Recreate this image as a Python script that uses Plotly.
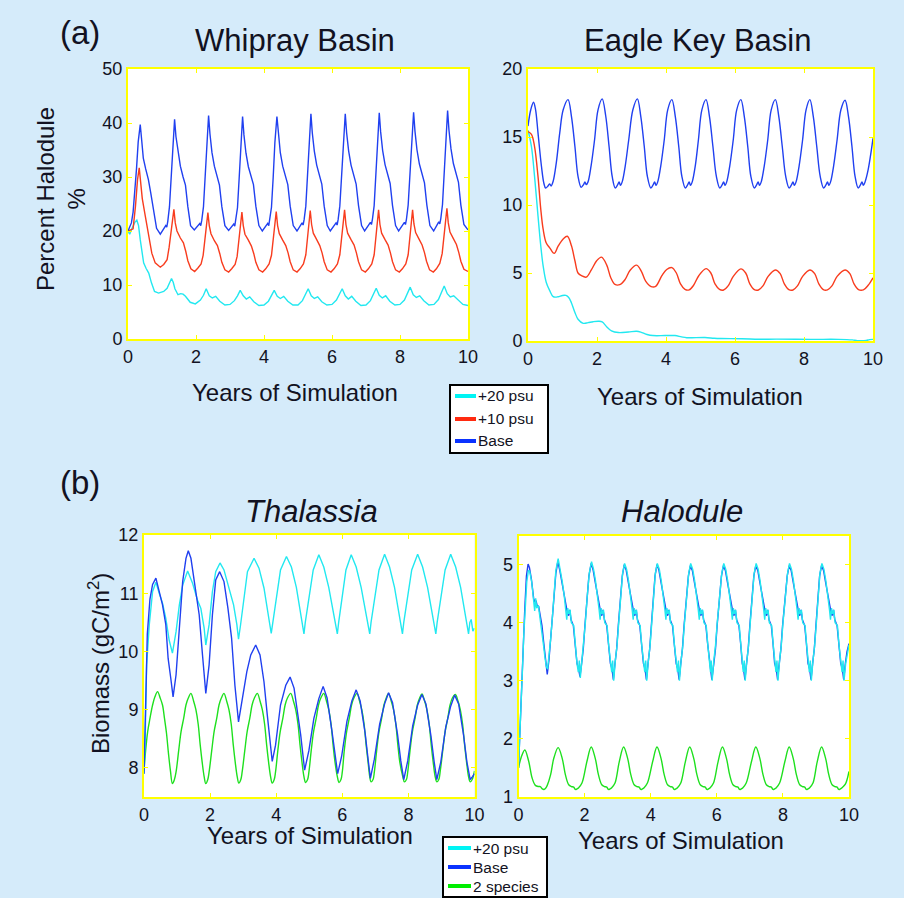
import plotly.graph_objects as go

# ---------------- DATA ----------------
# (a) Whipray Basin, percent Halodule
wc_x = [0, 0.05, 0.12, 0.20, 0.26, 0.31, 0.36, 0.42, 0.46, 0.53, 0.61, 0.69, 0.78, 0.90,
        1.05, 1.15, 1.22, 1.28, 1.33, 1.38, 1.47, 1.55, 1.62, 1.69, 1.83, 1.98,
        2.13, 2.22, 2.30, 2.39, 2.48, 2.58, 2.70, 2.85, 3.00,
        3.13, 3.22, 3.30, 3.39, 3.48, 3.58, 3.70, 3.85, 4.00,
        4.13, 4.22, 4.30, 4.39, 4.48, 4.58, 4.70, 4.85, 5.00,
        5.13, 5.22, 5.30, 5.39, 5.48, 5.58, 5.70, 5.85, 6.00,
        6.13, 6.22, 6.30, 6.39, 6.48, 6.58, 6.70, 6.85, 7.00,
        7.13, 7.22, 7.30, 7.39, 7.48, 7.58, 7.70, 7.85, 8.00,
        8.13, 8.22, 8.30, 8.39, 8.48, 8.58, 8.70, 8.85, 9.00,
        9.13, 9.22, 9.30, 9.39, 9.48, 9.58, 9.70, 9.85, 10.0]
wc_y = [20.0, 19.4, 20.5, 21.6, 22.0, 21.0, 18.4, 15.5, 14.1, 13.1, 12.2, 10.4, 8.8, 8.5,
        8.8, 9.4, 10.4, 11.2, 10.5, 9.3, 8.2, 8.4, 8.3, 7.9, 6.8, 6.5,
        7.2, 8.1, 9.3, 8.0, 7.6, 7.9, 7.0, 6.3, 6.4,
        7.1, 8.0, 9.0, 8.0, 7.4, 7.8, 6.9, 6.2, 6.3,
        7.0, 8.0, 9.0, 7.9, 7.5, 7.9, 7.0, 6.3, 6.3,
        7.1, 8.2, 9.3, 8.0, 7.5, 7.8, 6.9, 6.3, 6.4,
        7.2, 8.2, 9.3, 8.0, 7.4, 7.9, 7.0, 6.2, 6.3,
        7.1, 8.2, 9.4, 8.1, 7.6, 8.0, 7.0, 6.3, 6.4,
        7.2, 8.4, 9.6, 8.2, 7.7, 8.0, 7.1, 6.3, 6.4,
        7.3, 8.5, 9.8, 8.4, 7.8, 8.0, 7.2, 6.4, 6.2]

wr_x = [0, 0.07, 0.15, 0.22, 0.28, 0.33, 0.37, 0.42, 0.51, 0.61, 0.70, 0.80, 0.95,
        1.05, 1.15, 1.21, 1.28, 1.35, 1.39, 1.44, 1.54, 1.63, 1.70, 1.76, 1.85, 1.96,
        2.05, 2.15, 2.21, 2.28, 2.35, 2.39, 2.44, 2.54, 2.63, 2.70, 2.76, 2.85, 2.96,
        3.05, 3.15, 3.21, 3.28, 3.35, 3.39, 3.44, 3.54, 3.63, 3.70, 3.76, 3.85, 3.96,
        4.05, 4.15, 4.22, 4.29, 4.36, 4.40, 4.45, 4.55, 4.64, 4.71, 4.77, 4.86, 4.97,
        5.06, 5.16, 5.23, 5.30, 5.36, 5.40, 5.45, 5.55, 5.64, 5.71, 5.77, 5.86, 5.97,
        6.06, 6.16, 6.23, 6.30, 6.37, 6.41, 6.46, 6.56, 6.65, 6.72, 6.78, 6.87, 6.98,
        7.07, 7.17, 7.24, 7.31, 7.37, 7.41, 7.46, 7.56, 7.65, 7.72, 7.78, 7.87, 7.98,
        8.07, 8.17, 8.24, 8.31, 8.37, 8.41, 8.46, 8.56, 8.65, 8.72, 8.78, 8.87, 8.98,
        9.07, 9.17, 9.24, 9.31, 9.38, 9.42, 9.47, 9.57, 9.66, 9.73, 9.79, 9.88, 10.0]
wr_y = [20.0, 20.2, 20.4, 24.6, 29.5, 31.7, 29.5, 26.0, 22.7, 19.0, 15.9, 14.1, 13.3,
        13.8, 14.7, 17.0, 21.0, 24.0, 21.5, 20.0, 18.7, 17.8, 16.2, 14.5, 13.0, 12.5,
        13.1, 13.9, 15.5, 19.5, 23.4, 21.0, 19.5, 18.2, 17.3, 15.8, 14.2, 12.8, 12.4,
        13.0, 13.8, 15.3, 19.4, 23.5, 21.0, 19.4, 18.3, 17.2, 15.8, 14.2, 12.8, 12.4,
        13.0, 13.9, 15.5, 19.6, 23.6, 21.0, 19.5, 18.3, 17.3, 15.9, 14.3, 12.8, 12.4,
        13.0, 13.9, 15.6, 19.7, 23.8, 21.2, 19.6, 18.4, 17.3, 15.9, 14.3, 12.8, 12.4,
        13.0, 13.9, 15.6, 19.8, 23.9, 21.2, 19.6, 18.4, 17.4, 15.9, 14.3, 12.8, 12.4,
        13.0, 13.9, 15.6, 19.8, 23.9, 21.2, 19.6, 18.4, 17.4, 15.9, 14.3, 12.8, 12.4,
        13.0, 13.9, 15.6, 19.8, 23.9, 21.3, 19.7, 18.5, 17.4, 16.0, 14.4, 12.8, 12.4,
        13.0, 14.0, 15.8, 20.0, 24.2, 21.5, 19.8, 18.6, 17.5, 16.0, 14.4, 12.9, 12.5]

wb_x = [0, 0.05, 0.10, 0.15, 0.20, 0.25, 0.30, 0.36, 0.40, 0.45, 0.52, 0.60, 0.67, 0.75, 0.84, 0.95,
        1.05, 1.11, 1.14, 1.17, 1.22, 1.27, 1.32, 1.37, 1.41, 1.47, 1.54, 1.62, 1.69, 1.76, 1.84, 1.95,
        2.05, 2.11, 2.14, 2.17, 2.22, 2.27, 2.32, 2.37, 2.41, 2.47, 2.54, 2.62, 2.69, 2.76, 2.85, 2.96,
        3.05, 3.11, 3.14, 3.17, 3.22, 3.27, 3.32, 3.37, 3.41, 3.47, 3.54, 3.62, 3.69, 3.76, 3.85, 3.95,
        4.05, 4.11, 4.14, 4.17, 4.22, 4.27, 4.32, 4.38, 4.42, 4.48, 4.55, 4.63, 4.70, 4.77, 4.86, 4.97,
        5.06, 5.12, 5.15, 5.18, 5.23, 5.28, 5.33, 5.38, 5.42, 5.48, 5.55, 5.63, 5.70, 5.77, 5.86, 5.95,
        6.06, 6.12, 6.15, 6.18, 6.23, 6.28, 6.33, 6.39, 6.43, 6.49, 6.56, 6.64, 6.71, 6.78, 6.87, 6.96,
        7.07, 7.13, 7.16, 7.19, 7.24, 7.29, 7.34, 7.39, 7.43, 7.49, 7.56, 7.64, 7.71, 7.78, 7.87, 7.96,
        8.07, 8.13, 8.16, 8.19, 8.24, 8.29, 8.34, 8.40, 8.44, 8.50, 8.57, 8.65, 8.72, 8.79, 8.88, 8.99,
        9.08, 9.14, 9.17, 9.20, 9.25, 9.30, 9.35, 9.40, 9.44, 9.50, 9.57, 9.65, 9.72, 9.79, 9.88, 10.0]
wb_y = [20.0, 20.8, 21.5, 23.5, 27.0, 31.5, 36.5, 39.7, 37.0, 33.5, 31.5, 29.5, 27.0, 23.5, 20.5, 19.4,
        20.5, 21.0, 20.7, 21.8, 24.5, 30.0, 36.0, 40.7, 37.5, 34.5, 32.0, 30.0, 28.5, 24.5, 21.0, 20.2,
        21.0, 21.4, 21.0, 22.0, 24.5, 30.0, 36.5, 41.4, 38.0, 34.5, 32.0, 30.0, 28.5, 24.5, 21.0, 20.1,
        20.9, 21.3, 20.9, 21.9, 24.3, 29.8, 36.3, 41.2, 37.8, 34.4, 31.9, 30.0, 28.6, 24.6, 21.0, 20.0,
        20.8, 21.4, 21.0, 22.0, 24.4, 29.9, 36.4, 41.2, 37.9, 34.5, 32.0, 30.1, 28.6, 24.6, 21.0, 20.0,
        20.9, 21.5, 21.1, 22.1, 24.6, 30.2, 36.8, 41.7, 38.2, 34.8, 32.2, 30.2, 28.7, 24.6, 21.0, 20.0,
        20.9, 21.5, 21.1, 22.1, 24.6, 30.2, 36.8, 41.7, 38.2, 34.8, 32.2, 30.2, 28.7, 24.7, 21.0, 20.0,
        21.0, 21.6, 21.2, 22.2, 24.7, 30.4, 37.0, 41.9, 38.4, 34.9, 32.3, 30.3, 28.8, 24.7, 21.0, 20.0,
        21.0, 21.6, 21.2, 22.2, 24.8, 30.5, 37.1, 42.0, 38.5, 35.0, 32.4, 30.4, 28.9, 24.8, 21.0, 20.0,
        21.0, 21.7, 21.3, 22.3, 24.9, 30.7, 37.4, 42.3, 38.7, 35.2, 32.5, 30.5, 29.0, 24.8, 21.2, 20.2]

# (a) Eagle Key Basin
ec_x = [0, 0.10, 0.19, 0.29, 0.37, 0.44, 0.53, 0.63, 0.73, 0.87, 1.00, 1.10, 1.18, 1.26, 1.36,
        1.45, 1.60, 1.74, 1.89, 2.05, 2.15, 2.28, 2.42, 2.62, 2.91, 3.15, 3.30, 3.45, 3.62, 3.97,
        4.26, 4.45, 4.60, 5.13, 5.40, 5.60, 6.20, 6.69, 7.20, 8.20, 9.00, 9.40, 9.55, 9.80, 9.90, 10.0]
ec_y = [15.5, 14.3, 12.1, 9.2, 7.0, 5.5, 4.3, 3.7, 3.26, 3.25, 3.35, 3.35, 3.2, 2.8, 2.1,
        1.6, 1.3, 1.35, 1.42, 1.45, 1.4, 1.05, 0.75, 0.62, 0.66, 0.72, 0.62, 0.48, 0.40, 0.40,
        0.40, 0.30, 0.24, 0.26, 0.20, 0.18, 0.17, 0.13, 0.14, 0.12, 0.12, 0.08, 0.03, 0.04, 0.10, 0.12]

er_x = [0, 0.10, 0.19, 0.29, 0.37, 0.44, 0.53, 0.63, 0.76, 0.87, 1.02, 1.14, 1.26, 1.36, 1.45,
        1.55, 1.69, 1.84, 1.99, 2.13, 2.28, 2.40, 2.52, 2.66, 2.81, 2.96, 3.15, 3.29, 3.41, 3.57,
        3.70, 3.88, 4.02, 4.17, 4.30, 4.42, 4.55, 4.67, 4.80, 4.95, 5.16, 5.30, 5.42, 5.55, 5.67,
        5.80, 5.95, 6.17, 6.31, 6.43, 6.56, 6.68, 6.81, 6.96, 7.17, 7.31, 7.43, 7.56, 7.68, 7.81,
        7.96, 8.17, 8.31, 8.43, 8.56, 8.68, 8.81, 8.96, 9.19, 9.33, 9.45, 9.58, 9.72, 9.86, 10.0]
er_y = [15.4, 15.2, 14.3, 12.1, 9.7, 8.2, 7.2, 6.85, 6.44, 6.95, 7.5, 7.7, 7.0, 5.9, 5.0,
        4.8, 4.7, 5.25, 5.9, 6.17, 5.6, 4.65, 4.16, 4.14, 4.5, 5.2, 5.58, 5.1, 4.4, 4.0,
        4.02, 4.8, 5.26, 5.4, 5.0, 4.2, 3.8, 3.76, 4.1, 4.8, 5.32, 5.0, 4.2, 3.8, 3.75,
        4.05, 4.75, 5.3, 5.0, 4.2, 3.78, 3.75, 4.05, 4.75, 5.22, 4.95, 4.2, 3.78, 3.75, 4.05,
        4.75, 5.22, 4.95, 4.2, 3.78, 3.76, 4.05, 4.75, 5.22, 4.95, 4.2, 3.78, 3.76, 4.1, 4.65]

eb_x = [0, 0.08, 0.16, 0.22, 0.29, 0.39, 0.46, 0.51, 0.58, 0.63, 0.67, 0.73, 0.82, 0.92, 1.02,
        1.16, 1.26, 1.36, 1.45, 1.54, 1.61, 1.65, 1.69, 1.74, 1.83, 1.93, 2.03,
        2.15, 2.25, 2.35, 2.44, 2.53, 2.60, 2.64, 2.68, 2.73, 2.82, 2.92, 3.04,
        3.17, 3.27, 3.37, 3.46, 3.56, 3.63, 3.67, 3.71, 3.76, 3.85, 3.95, 4.05,
        4.17, 4.27, 4.37, 4.46, 4.56, 4.63, 4.67, 4.71, 4.76, 4.85, 4.94, 5.04,
        5.16, 5.26, 5.36, 5.46, 5.56, 5.63, 5.67, 5.71, 5.76, 5.85, 5.95, 6.05,
        6.17, 6.27, 6.37, 6.46, 6.56, 6.63, 6.67, 6.71, 6.76, 6.85, 6.95, 7.05,
        7.17, 7.27, 7.37, 7.47, 7.57, 7.64, 7.68, 7.72, 7.77, 7.86, 7.96, 8.06,
        8.17, 8.27, 8.37, 8.47, 8.57, 8.64, 8.68, 8.72, 8.77, 8.86, 8.96, 9.07,
        9.19, 9.29, 9.39, 9.48, 9.57, 9.64, 9.68, 9.72, 9.77, 9.86, 9.95, 10.0]
eb_y = [15.8, 17.0, 17.55, 17.0, 15.3, 12.85, 11.6, 11.25, 11.4, 11.55, 11.4, 11.75, 13.1, 15.3, 17.0,
        17.75, 16.5, 14.3, 12.1, 11.3, 11.5, 11.7, 11.5, 11.7, 12.9, 14.8, 17.0,
        17.8, 16.6, 14.3, 12.1, 11.25, 11.5, 11.7, 11.45, 11.7, 12.9, 14.8, 17.0,
        17.8, 16.5, 14.3, 12.1, 11.25, 11.5, 11.7, 11.45, 11.7, 12.9, 14.8, 17.0,
        17.75, 16.5, 14.3, 12.1, 11.25, 11.5, 11.7, 11.45, 11.7, 12.9, 14.8, 17.0,
        17.75, 16.5, 14.3, 12.1, 11.25, 11.5, 11.7, 11.45, 11.7, 12.9, 14.8, 17.0,
        17.75, 16.5, 14.3, 12.1, 11.25, 11.5, 11.7, 11.45, 11.7, 12.9, 14.8, 17.0,
        17.75, 16.5, 14.3, 12.1, 11.25, 11.5, 11.7, 11.45, 11.7, 12.9, 14.8, 17.0,
        17.75, 16.5, 14.3, 12.1, 11.25, 11.5, 11.7, 11.45, 11.7, 12.9, 14.8, 17.0,
        17.7, 16.5, 14.3, 12.1, 11.25, 11.5, 11.7, 11.45, 11.7, 12.6, 14.0, 14.9]

# (b) Thalassia biomass
tc_x = [0, 0.04, 0.08, 0.16, 0.26, 0.36, 0.46, 0.56, 0.66, 0.76, 0.86, 0.97, 1.07, 1.17, 1.32,
        1.47, 1.62, 1.72, 1.82, 1.87, 1.97, 2.07, 2.17, 2.30, 2.42, 2.58, 2.71, 2.81, 2.86, 2.92,
        2.98, 3.13, 3.33, 3.48, 3.63, 3.73, 3.81, 3.85, 3.90, 3.98, 4.13,
        4.31, 4.46, 4.61, 4.73, 4.80, 4.84, 4.88, 4.96, 5.12,
        5.29, 5.44, 5.59, 5.71, 5.80, 5.85, 5.89, 5.97, 6.11,
        6.27, 6.42, 6.57, 6.69, 6.78, 6.83, 6.87, 6.95, 7.11,
        7.28, 7.43, 7.58, 7.70, 7.78, 7.82, 7.86, 7.94, 8.10,
        8.28, 8.43, 8.58, 8.70, 8.79, 8.83, 8.87, 8.95, 9.11,
        9.28, 9.43, 9.58, 9.70, 9.78, 9.82, 9.86, 9.90, 9.95, 10.0]
tc_y = [7.9, 8.6, 9.77, 10.46, 11.03, 11.19, 11.0, 10.83, 10.57, 10.2, 9.97, 10.34, 10.8, 11.14, 11.38,
        11.17, 10.88, 10.74, 10.4, 10.11, 10.46, 11.03, 11.37, 11.52, 11.4, 11.09, 10.8, 10.46, 10.21, 10.45,
        10.74, 11.37, 11.6, 11.43, 11.09, 10.69, 10.45, 10.31, 10.5, 10.8, 11.4,
        11.63, 11.45, 11.1, 10.7, 10.45, 10.3, 10.5, 10.8, 11.4,
        11.66, 11.45, 11.1, 10.7, 10.45, 10.3, 10.5, 10.8, 11.4,
        11.66, 11.45, 11.1, 10.7, 10.45, 10.3, 10.5, 10.8, 11.4,
        11.67, 11.45, 11.1, 10.7, 10.45, 10.3, 10.5, 10.8, 11.4,
        11.67, 11.45, 11.1, 10.7, 10.45, 10.3, 10.5, 10.8, 11.4,
        11.67, 11.45, 11.1, 10.7, 10.45, 10.3, 10.5, 10.55, 10.35, 10.4]

tb_x = [0, 0.03, 0.06, 0.10, 0.18, 0.26, 0.36, 0.46, 0.56, 0.66, 0.73, 0.81, 0.88, 0.97, 1.07,
        1.17, 1.27, 1.34, 1.42, 1.57, 1.67, 1.77, 1.82, 1.87, 1.97, 2.07, 2.17, 2.29, 2.42, 2.54,
        2.65, 2.75, 2.86, 2.98, 3.11, 3.23, 3.38, 3.51, 3.63, 3.73, 3.83, 3.88, 3.98, 4.13, 4.29,
        4.42, 4.54, 4.64, 4.74, 4.86, 4.99, 5.14, 5.29, 5.42, 5.54, 5.69, 5.78, 5.86, 5.98, 6.14,
        6.29, 6.42, 6.54, 6.69, 6.78, 6.85, 6.97, 7.13, 7.28, 7.40, 7.52, 7.67, 7.77, 7.86, 7.98,
        8.13, 8.28, 8.41, 8.53, 8.68, 8.78, 8.86, 8.98, 9.13, 9.28, 9.40, 9.52, 9.67, 9.77, 9.87,
        9.94, 10.0]
tb_y = [7.9, 8.6, 9.6, 10.3, 10.9, 11.15, 11.26, 11.03, 10.8, 10.46, 9.88, 9.54, 9.22, 9.6, 10.46,
        11.2, 11.6, 11.73, 11.6, 11.03, 10.63, 9.94, 9.54, 9.28, 9.77, 10.63, 11.23, 11.37, 11.2, 10.74,
        10.23, 9.42, 8.79, 9.19, 9.65, 9.94, 10.11, 9.94, 9.48, 8.91, 8.34, 8.11, 8.39, 9.08, 9.42,
        9.56, 9.37, 8.97, 8.57, 7.96, 8.3, 8.85, 9.19, 9.4, 9.2, 8.62, 8.2, 7.9, 8.2, 8.8,
        9.15, 9.34, 9.15, 8.6, 8.15, 7.82, 8.15, 8.75, 9.1, 9.29, 9.12, 8.58, 8.12, 7.8, 8.12,
        8.72, 9.08, 9.26, 9.1, 8.56, 8.1, 7.8, 8.1, 8.7, 9.06, 9.25, 9.1, 8.56, 8.1, 7.8,
        7.85, 7.9]

tg_x = [0, 0.05, 0.11, 0.18, 0.26, 0.33, 0.41, 0.49, 0.56, 0.62, 0.68, 0.74, 0.80, 0.86, 0.92, 0.97,
        1.05, 1.12, 1.20, 1.27, 1.34, 1.42, 1.50, 1.57, 1.64, 1.70, 1.76, 1.82, 1.87, 1.93, 1.97,
        2.05, 2.12, 2.20, 2.27, 2.34, 2.42, 2.50, 2.57, 2.64, 2.70, 2.76, 2.82, 2.87, 2.93, 2.97,
        3.05, 3.12, 3.20, 3.27, 3.34, 3.43, 3.51, 3.58, 3.65, 3.71, 3.77, 3.83, 3.88, 3.94, 3.98,
        4.05, 4.12, 4.20, 4.27, 4.34, 4.44, 4.52, 4.59, 4.66, 4.72, 4.78, 4.84, 4.89, 4.95, 4.99,
        5.06, 5.13, 5.21, 5.28, 5.35, 5.44, 5.52, 5.59, 5.66, 5.72, 5.78, 5.85, 5.90, 5.96, 6.00,
        6.06, 6.13, 6.21, 6.28, 6.35, 6.45, 6.52, 6.59, 6.66, 6.72, 6.78, 6.83, 6.87, 6.93, 6.97,
        7.04, 7.11, 7.19, 7.26, 7.33, 7.40, 7.48, 7.55, 7.62, 7.68, 7.74, 7.83, 7.88, 7.94, 7.98,
        8.05, 8.12, 8.20, 8.27, 8.34, 8.41, 8.49, 8.56, 8.63, 8.69, 8.75, 8.81, 8.86, 8.92, 8.96,
        9.04, 9.11, 9.19, 9.26, 9.33, 9.42, 9.50, 9.57, 9.64, 9.70, 9.76, 9.82, 9.87, 9.93, 10.0]
tg_y = [7.95, 8.3, 8.62, 8.85, 9.08, 9.22, 9.31, 9.2, 9.08, 8.85, 8.6, 8.25, 7.95, 7.73, 7.8, 7.93,
        8.3, 8.62, 8.85, 9.08, 9.2, 9.28, 9.15, 9.0, 8.75, 8.4, 8.1, 7.85, 7.73, 7.8, 7.93,
        8.3, 8.62, 8.85, 9.08, 9.2, 9.28, 9.15, 9.0, 8.75, 8.4, 8.1, 7.85, 7.74, 7.8, 7.93,
        8.3, 8.62, 8.85, 9.08, 9.2, 9.28, 9.15, 9.0, 8.75, 8.4, 8.1, 7.85, 7.74, 7.8, 7.93,
        8.3, 8.62, 8.85, 9.08, 9.2, 9.28, 9.15, 9.0, 8.75, 8.4, 8.1, 7.85, 7.75, 7.8, 7.93,
        8.3, 8.62, 8.85, 9.08, 9.2, 9.28, 9.15, 9.0, 8.75, 8.4, 8.1, 7.85, 7.75, 7.8, 7.93,
        8.3, 8.62, 8.85, 9.08, 9.2, 9.28, 9.15, 9.0, 8.75, 8.4, 8.1, 7.85, 7.76, 7.8, 7.93,
        8.3, 8.62, 8.85, 9.08, 9.2, 9.28, 9.15, 9.0, 8.75, 8.4, 8.1, 7.85, 7.76, 7.8, 7.93,
        8.3, 8.62, 8.85, 9.08, 9.2, 9.27, 9.15, 9.0, 8.75, 8.4, 8.1, 7.85, 7.76, 7.8, 7.93,
        8.3, 8.62, 8.85, 9.08, 9.2, 9.26, 9.15, 9.0, 8.75, 8.4, 8.1, 7.85, 7.76, 7.8, 7.95]

# (b) Halodule biomass
hb_x = [0, 0.04, 0.08, 0.11, 0.15, 0.19, 0.24, 0.29, 0.33, 0.39, 0.46, 0.50, 0.53, 0.56, 0.61, 0.66,
        0.71, 0.76, 0.81, 0.84, 0.87, 0.92, 0.97, 1.02, 1.07, 1.13,
        1.19, 1.25, 1.31, 1.37, 1.43, 1.47, 1.51, 1.55, 1.59, 1.66, 1.71, 1.77, 1.82, 1.86, 1.91, 1.96, 2.01, 2.07, 2.13,
        2.20, 2.26, 2.32, 2.38, 2.44, 2.48, 2.52, 2.56, 2.60, 2.67, 2.72, 2.78, 2.83, 2.87, 2.92, 2.97, 3.02, 3.08, 3.14,
        3.20, 3.26, 3.32, 3.38, 3.44, 3.48, 3.52, 3.56, 3.60, 3.67, 3.72, 3.78, 3.83, 3.87, 3.92, 3.97, 4.02, 4.07, 4.13,
        4.19, 4.25, 4.31, 4.37, 4.43, 4.47, 4.51, 4.55, 4.59, 4.66, 4.71, 4.77, 4.82, 4.86, 4.91, 4.96, 5.01, 5.08, 5.14,
        5.20, 5.26, 5.32, 5.38, 5.44, 5.48, 5.52, 5.56, 5.60, 5.67, 5.72, 5.78, 5.82, 5.85, 5.91, 5.96, 6.01, 6.08, 6.14,
        6.20, 6.26, 6.32, 6.38, 6.44, 6.48, 6.52, 6.56, 6.60, 6.67, 6.72, 6.77, 6.81, 6.85, 6.90, 6.95, 7.00, 7.06, 7.12,
        7.18, 7.24, 7.30, 7.36, 7.42, 7.46, 7.50, 7.54, 7.58, 7.65, 7.70, 7.75, 7.80, 7.84, 7.89, 7.94, 7.99, 8.06, 8.13,
        8.19, 8.25, 8.31, 8.37, 8.43, 8.47, 8.51, 8.55, 8.59, 8.66, 8.71, 8.76, 8.81, 8.85, 8.90, 8.95, 9.00, 9.05, 9.11,
        9.17, 9.23, 9.29, 9.35, 9.41, 9.45, 9.49, 9.53, 9.57, 9.64, 9.69, 9.75, 9.80, 9.84, 9.89, 9.94, 10.0]
hb_y = [1.5, 2.1, 2.9, 3.27, 3.9, 4.24, 4.8, 5.01, 4.95, 4.75, 4.41, 4.35, 4.38, 4.3, 4.28, 4.13,
        3.95, 3.67, 3.44, 3.2, 3.11, 3.35, 3.67, 4.0, 4.41, 4.85,
        5.05, 4.9, 4.7, 4.5, 4.3, 4.2, 4.12, 4.22, 4.05, 3.95, 3.65, 3.3, 3.2, 3.07, 3.3, 3.55, 3.95, 4.4, 4.8,
        5.02, 4.9, 4.7, 4.5, 4.3, 4.2, 4.12, 4.22, 4.05, 3.95, 3.65, 3.3, 3.2, 3.02, 3.3, 3.55, 3.95, 4.4, 4.8,
        5.0, 4.9, 4.7, 4.5, 4.3, 4.2, 4.12, 4.22, 4.05, 3.95, 3.65, 3.3, 3.2, 3.02, 3.3, 3.55, 3.95, 4.4, 4.8,
        5.0, 4.9, 4.7, 4.5, 4.3, 4.2, 4.12, 4.22, 4.05, 3.95, 3.65, 3.3, 3.2, 3.02, 3.3, 3.55, 3.95, 4.4, 4.8,
        4.98, 4.9, 4.7, 4.5, 4.3, 4.2, 4.12, 4.22, 4.05, 3.95, 3.65, 3.3, 3.2, 3.02, 3.3, 3.55, 3.95, 4.4, 4.8,
        4.98, 4.9, 4.7, 4.5, 4.3, 4.2, 4.12, 4.22, 4.05, 3.95, 3.65, 3.3, 3.2, 3.02, 3.3, 3.55, 3.95, 4.4, 4.8,
        4.98, 4.9, 4.7, 4.5, 4.3, 4.2, 4.12, 4.22, 4.05, 3.95, 3.65, 3.3, 3.2, 3.02, 3.3, 3.55, 3.95, 4.4, 4.8,
        4.98, 4.9, 4.7, 4.5, 4.3, 4.2, 4.12, 4.22, 4.05, 3.95, 3.65, 3.3, 3.2, 3.02, 3.3, 3.55, 3.95, 4.4, 4.8,
        4.98, 4.9, 4.7, 4.5, 4.3, 4.2, 4.12, 4.22, 4.05, 3.95, 3.65, 3.3, 3.2, 3.02, 3.3, 3.5, 3.64]

hc_x = [0, 0.04, 0.08, 0.12, 0.16, 0.20, 0.25, 0.30, 0.34, 0.40, 0.46, 0.49, 0.52, 0.55, 0.60, 0.66,
        0.71, 0.76, 0.80, 0.84, 0.88, 0.92, 0.97, 1.02, 1.07, 1.13,
        1.20, 1.26, 1.32, 1.38, 1.43, 1.46, 1.49, 1.52, 1.56, 1.60, 1.67, 1.72, 1.77, 1.81, 1.84, 1.87, 1.92, 1.97, 2.02, 2.08, 2.14,
        2.21, 2.27, 2.33, 2.39, 2.44, 2.47, 2.50, 2.53, 2.57, 2.61, 2.68, 2.73, 2.78, 2.82, 2.85, 2.88, 2.93, 2.98, 3.03, 3.09, 3.15,
        3.21, 3.27, 3.33, 3.39, 3.44, 3.47, 3.50, 3.53, 3.57, 3.61, 3.68, 3.73, 3.78, 3.82, 3.85, 3.88, 3.93, 3.98, 4.03, 4.08, 4.14,
        4.20, 4.26, 4.32, 4.38, 4.43, 4.46, 4.49, 4.52, 4.56, 4.60, 4.67, 4.72, 4.77, 4.81, 4.84, 4.87, 4.92, 4.97, 5.02, 5.08, 5.15,
        5.21, 5.27, 5.33, 5.39, 5.44, 5.47, 5.50, 5.53, 5.57, 5.61, 5.68, 5.73, 5.78, 5.81, 5.83, 5.86, 5.91, 5.96, 6.01, 6.08, 6.15,
        6.21, 6.27, 6.33, 6.39, 6.44, 6.47, 6.50, 6.53, 6.57, 6.61, 6.68, 6.73, 6.77, 6.80, 6.83, 6.86, 6.91, 6.96, 7.01, 7.07, 7.13,
        7.19, 7.25, 7.31, 7.37, 7.42, 7.45, 7.48, 7.51, 7.55, 7.59, 7.66, 7.71, 7.76, 7.79, 7.82, 7.85, 7.90, 7.95, 8.00, 8.07, 8.14,
        8.20, 8.26, 8.32, 8.38, 8.43, 8.46, 8.49, 8.52, 8.56, 8.60, 8.67, 8.72, 8.77, 8.80, 8.83, 8.86, 8.91, 8.96, 9.01, 9.06, 9.12,
        9.18, 9.24, 9.30, 9.36, 9.41, 9.44, 9.47, 9.50, 9.54, 9.58, 9.65, 9.70, 9.75, 9.79, 9.82, 9.85, 9.90, 9.95, 10.0]
hc_y = [1.5, 2.0, 2.7, 3.2, 3.8, 4.2, 4.7, 4.9, 4.88, 4.7, 4.35, 4.2, 4.42, 4.25, 4.3, 4.05,
        3.9, 3.6, 3.4, 3.25, 3.2, 3.4, 3.7, 4.05, 4.45, 4.9,
        5.1, 4.92, 4.72, 4.48, 4.22, 4.05, 4.25, 4.15, 4.22, 4.0, 3.95, 3.6, 3.3, 3.15, 3.35, 3.05, 3.35, 3.6, 3.98, 4.45, 4.85,
        5.05, 4.92, 4.72, 4.48, 4.22, 4.05, 4.25, 4.15, 4.22, 4.0, 3.95, 3.6, 3.3, 3.15, 3.35, 3.0, 3.35, 3.6, 3.98, 4.45, 4.85,
        5.02, 4.92, 4.72, 4.48, 4.22, 4.05, 4.25, 4.15, 4.22, 4.0, 3.95, 3.6, 3.3, 3.15, 3.35, 3.0, 3.35, 3.6, 3.98, 4.45, 4.85,
        5.02, 4.92, 4.72, 4.48, 4.22, 4.05, 4.25, 4.15, 4.22, 4.0, 3.95, 3.6, 3.3, 3.15, 3.35, 3.0, 3.35, 3.6, 3.98, 4.45, 4.85,
        5.02, 4.92, 4.72, 4.48, 4.22, 4.05, 4.25, 4.15, 4.22, 4.0, 3.95, 3.6, 3.3, 3.15, 3.35, 3.0, 3.35, 3.6, 3.98, 4.45, 4.85,
        5.02, 4.92, 4.72, 4.48, 4.22, 4.05, 4.25, 4.15, 4.22, 4.0, 3.95, 3.6, 3.3, 3.15, 3.35, 3.0, 3.35, 3.6, 3.98, 4.45, 4.85,
        5.02, 4.92, 4.72, 4.48, 4.22, 4.05, 4.25, 4.15, 4.22, 4.0, 3.95, 3.6, 3.3, 3.15, 3.35, 3.0, 3.35, 3.6, 3.98, 4.45, 4.85,
        5.02, 4.92, 4.72, 4.48, 4.22, 4.05, 4.25, 4.15, 4.22, 4.0, 3.95, 3.6, 3.3, 3.15, 3.35, 3.0, 3.35, 3.6, 3.98, 4.45, 4.85,
        5.02, 4.92, 4.72, 4.48, 4.22, 4.05, 4.25, 4.15, 4.22, 4.0, 3.95, 3.6, 3.3, 3.15, 3.35, 3.0, 3.3, 3.45, 3.62]

hg_x = [0, 0.08, 0.19, 0.31, 0.41, 0.51, 0.60, 0.66, 0.72, 0.77, 0.82, 0.87, 0.97, 1.07,
        1.20, 1.32, 1.42, 1.52, 1.60, 1.67, 1.72, 1.77, 1.82, 1.92, 2.07,
        2.20, 2.32, 2.42, 2.52, 2.60, 2.67, 2.72, 2.77, 2.82, 2.92, 3.05,
        3.18, 3.30, 3.40, 3.50, 3.58, 3.65, 3.70, 3.75, 3.80, 3.90, 4.06,
        4.19, 4.31, 4.41, 4.51, 4.59, 4.66, 4.71, 4.76, 4.81, 4.91, 5.05,
        5.18, 5.30, 5.40, 5.50, 5.58, 5.65, 5.70, 5.75, 5.80, 5.90, 6.04,
        6.17, 6.29, 6.39, 6.49, 6.57, 6.64, 6.69, 6.74, 6.79, 6.89, 7.05,
        7.18, 7.30, 7.40, 7.50, 7.58, 7.65, 7.70, 7.75, 7.80, 7.90, 8.06,
        8.19, 8.31, 8.41, 8.51, 8.59, 8.66, 8.71, 8.76, 8.81, 8.91, 9.04,
        9.17, 9.29, 9.39, 9.49, 9.57, 9.64, 9.69, 9.74, 9.79, 9.89, 10.0]
hg_y = [1.5, 1.68, 1.81, 1.61, 1.33, 1.2, 1.18, 1.18, 1.14, 1.13, 1.15, 1.2, 1.38, 1.67,
        1.85, 1.67, 1.38, 1.21, 1.18, 1.17, 1.13, 1.14, 1.16, 1.24, 1.61,
        1.86, 1.67, 1.38, 1.21, 1.18, 1.17, 1.13, 1.14, 1.16, 1.24, 1.61,
        1.86, 1.67, 1.38, 1.21, 1.18, 1.17, 1.13, 1.14, 1.16, 1.24, 1.61,
        1.86, 1.67, 1.38, 1.21, 1.18, 1.17, 1.13, 1.14, 1.16, 1.24, 1.61,
        1.86, 1.67, 1.38, 1.21, 1.18, 1.17, 1.13, 1.14, 1.16, 1.24, 1.61,
        1.86, 1.67, 1.38, 1.21, 1.18, 1.17, 1.13, 1.14, 1.16, 1.24, 1.61,
        1.86, 1.67, 1.38, 1.21, 1.18, 1.17, 1.13, 1.14, 1.16, 1.24, 1.61,
        1.86, 1.67, 1.38, 1.21, 1.18, 1.17, 1.13, 1.14, 1.16, 1.24, 1.61,
        1.86, 1.67, 1.38, 1.21, 1.18, 1.17, 1.13, 1.14, 1.16, 1.22, 1.44]

legend_a = ["+20 psu", "+10 psu", "Base"]
legend_b = ["+20 psu", "Base", "2 species"]
panel_titles = ["Whipray Basin", "Eagle Key Basin", "<i>Thalassia</i>", "<i>Halodule</i>"]
x_title = "Years of Simulation"
y_title_a = "Percent Halodule<br>%"
y_title_b = "Biomass (gC/m<sup>2</sup>)"

# ---------------- STYLE ----------------
W, H = 904, 898
BG = "#d5ebfa"
CYAN, RED, BLUE, GREEN = "#22e8f0", "#f83c1e", "#2040f0", "#1ee01e"
LEG_CYAN, LEG_RED, LEG_BLUE, LEG_GREEN = "#00f4f4", "#ff2a10", "#0a32ff", "#00ee00"
TXT = "#121222"
FONT = "Liberation Sans, Arial, Helvetica, sans-serif"
LW = 1.4


def px_dom_x(a, b):
    return [a / W, b / W]


def px_dom_y(top, bottom):
    return [1 - bottom / H, 1 - top / H]


fig = go.Figure()


def add(x, y, color, xa, ya, name, shape="linear"):
    fig.add_trace(go.Scatter(x=x, y=y, mode="lines", xaxis=xa, yaxis=ya, name=name,
                             line=dict(color=color, width=LW, shape=shape),
                             showlegend=False, hoverinfo="skip"))


add(wc_x, wc_y, CYAN, "x", "y", legend_a[0])
add(wr_x, wr_y, RED, "x", "y", legend_a[1])
add(wb_x, wb_y, BLUE, "x", "y", legend_a[2])
add(ec_x, ec_y, CYAN, "x2", "y2", legend_a[0], "spline")
add(er_x, er_y, RED, "x2", "y2", legend_a[1], "spline")
add(eb_x, eb_y, BLUE, "x2", "y2", legend_a[2], "spline")
add(tg_x, tg_y, GREEN, "x3", "y3", legend_b[2], "spline")
add(tc_x, tc_y, CYAN, "x3", "y3", legend_b[0])
add(tb_x, tb_y, BLUE, "x3", "y3", legend_b[1])
add(hg_x, hg_y, GREEN, "x4", "y4", legend_b[2], "spline")
add(hb_x, hb_y, BLUE, "x4", "y4", legend_b[1])
add(hc_x, hc_y, CYAN, "x4", "y4", legend_b[0])

axis_common = dict(showline=True, linecolor="#ffff00", linewidth=2, mirror="ticks",
                   ticks="inside", tickcolor="#ffff00", ticklen=4, tickwidth=1,
                   showgrid=False, zeroline=False,
                   tickfont=dict(family=FONT, size=18, color=TXT))

fig.update_layout(
    width=W, height=H, margin=dict(l=0, r=0, t=0, b=0, autoexpand=False),
    paper_bgcolor=BG, plot_bgcolor="white", showlegend=False,
    xaxis=dict(domain=px_dom_x(128, 468), range=[0, 10], dtick=2, anchor="y", **axis_common),
    yaxis=dict(domain=px_dom_y(69, 339), range=[0, 50], dtick=10, anchor="x", **axis_common),
    xaxis2=dict(domain=px_dom_x(528, 873), range=[0, 10], dtick=2, anchor="y2", **axis_common),
    yaxis2=dict(domain=px_dom_y(69, 341), range=[0, 20], dtick=5, anchor="x2", **axis_common),
    xaxis3=dict(domain=px_dom_x(144, 474.5), range=[0, 10], dtick=2, anchor="y3", **axis_common),
    yaxis3=dict(domain=px_dom_y(535, 797), range=[7.5, 12], tickvals=[8, 9, 10, 11, 12], anchor="x3", **axis_common),
    xaxis4=dict(domain=px_dom_x(518.5, 849), range=[0, 10], dtick=2, anchor="y4", **axis_common),
    yaxis4=dict(domain=px_dom_y(535.5, 797), range=[1, 5.5], tickvals=[1, 2, 3, 4, 5], anchor="x4", **axis_common),
)


def note(text, x, y, size, angle=0, xanchor="center"):
    fig.add_annotation(text=text, x=x / W, y=1 - y / H, xref="paper", yref="paper",
                       xanchor=xanchor, yanchor="middle", showarrow=False, textangle=angle,
                       font=dict(family=FONT, size=size, color=TXT))


note("(a)", 80, 32, 33)
note("(b)", 80, 482, 33)
note(panel_titles[0], 295, 41, 31)
note(panel_titles[1], 697, 41, 31)
note(panel_titles[2], 311, 511, 31)
note(panel_titles[3], 682, 511, 31)
note(x_title, 295, 392, 24)
note(x_title, 700, 397, 24)
note(x_title, 310, 835, 24)
note(x_title, 681, 840, 24)
note(y_title_a, 61, 199, 24, -90)
note(y_title_b, 99, 664, 24, -90)


# ---- legend boxes (drawn in pixel positions of the page) ----
def legend_box(left, top, right, bottom, names, colors, rows, sx0, sx1, tx):
    fig.add_shape(type="rect", xref="paper", yref="paper",
                  x0=left / W, x1=right / W, y0=1 - bottom / H, y1=1 - top / H,
                  line=dict(color="black", width=2), fillcolor="white", layer="above")
    for name, col, ry in zip(names, colors, rows):
        fig.add_shape(type="line", xref="paper", yref="paper",
                      x0=sx0 / W, x1=sx1 / W, y0=1 - ry / H, y1=1 - ry / H,
                      line=dict(color=col, width=4), layer="above")
        note(name, tx, ry, 15.5, xanchor="left")


legend_box(450, 385, 548, 453, legend_a, [LEG_CYAN, LEG_RED, LEG_BLUE],
           [396, 419, 441], 455, 476, 476)
legend_box(443, 837, 547, 897, legend_b, [LEG_CYAN, LEG_BLUE, LEG_GREEN],
           [848, 867, 886], 448, 471, 471)

fig.write_html("out.html", config={"displayModeBar": False, "staticPlot": True},
               post_script="document.body.style.margin='0';document.body.style.overflow='hidden';")
